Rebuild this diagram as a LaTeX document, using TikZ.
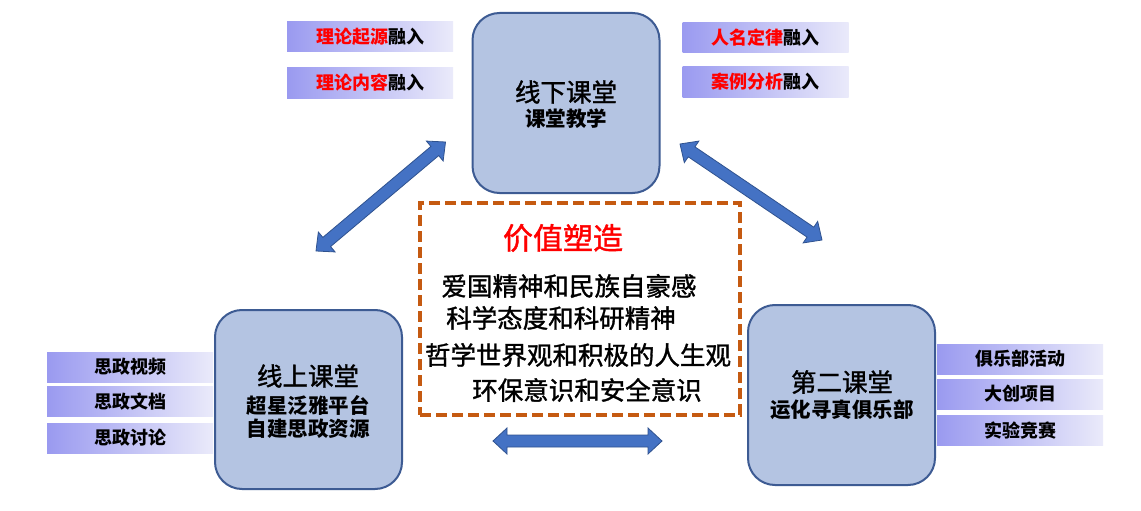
\documentclass[tikz,border=0pt]{standalone}
\usepackage{fontspec}
\newfontfamily\cjk{Noto Sans CJK SC}
\newfontfamily\cjkm[FakeBold=1.3]{Noto Sans CJK SC}
\usetikzlibrary{calc}
\definecolor{boxfill}{HTML}{B4C4E2}
\definecolor{boxline}{HTML}{3D5B93}
\definecolor{tabL}{HTML}{9A9AF0}
\definecolor{tabR}{HTML}{EAEAFA}
\definecolor{dashc}{HTML}{C55A11}
\definecolor{arrfill}{HTML}{4472C4}
\definecolor{arrline}{HTML}{2F528F}
\definecolor{redtxt}{HTML}{FF0000}
\newcommand\dblarrow[2]{%
  \coordinate (q1) at ($(#1)!14pt!(#2)$);
  \coordinate (q2) at ($(#2)!14pt!(#1)$);
  \filldraw[fill=arrfill,draw=arrline,line width=0.8pt,line join=miter]
    (#1) -- ($(q1)!13pt!90:(#2)$) -- ($(q1)!6pt!90:(#2)$)
    -- ($(q2)!6pt!-90:(#1)$) -- ($(q2)!13pt!-90:(#1)$) -- (#2)
    -- ($(q2)!13pt!90:(#1)$) -- ($(q2)!6pt!90:(#1)$)
    -- ($(q1)!6pt!-90:(#2)$) -- ($(q1)!13pt!-90:(#2)$) -- cycle;}
\begin{document}
\begin{tikzpicture}[x=1pt,y=-1pt,
  mainbox/.style={draw=boxline,fill=boxfill,line width=2pt,rounded corners=27pt,inner sep=0pt},
  tabbox/.style={left color=tabL,right color=tabR,draw=none,minimum width=166pt,minimum height=30pt,inner sep=0pt,
    font=\cjk\bfseries\fontsize{18}{18}\selectfont},
  bigt/.style={font=\cjkm\fontsize{25.5}{26}\selectfont,inner sep=0pt},
  subt/.style={font=\cjk\bfseries\fontsize{20.5}{21}\selectfont,inner sep=0pt},
  valt/.style={font=\cjkm\fontsize{25.5}{26}\selectfont,inner sep=0pt},
  dashbox/.style={draw=dashc,line width=3.2pt,dash pattern=on 11pt off 5pt,inner sep=0pt}]
\useasboundingbox (0,0) rectangle (1141,511);
\fill[white] (0,0) rectangle (1141,511);
% main boxes
\node[mainbox,minimum width=187pt,minimum height=180pt] (top) at (566,103) {};
\node[mainbox,minimum width=187pt,minimum height=179pt] (left) at (308.5,399.5) {};
\node[mainbox,minimum width=187pt,minimum height=180pt] (right) at (841.5,395) {};
\node[bigt] (topt1) at (566,92) {线下课堂};
\node[subt] (topt2) at (566,119) {课堂教学};
\node[bigt] (leftt1) at (308,376) {线上课堂};
\node[subt] (leftt2) at (308,405) {超星泛雅平台};
\node[subt] (leftt3) at (308,429) {自建思政资源};
\node[bigt] (rightt1) at (842,382) {第二课堂};
\node[subt] (rightt2) at (842,410) {运化寻真俱乐部};
% value box
\node[dashbox,minimum width=320pt,minimum height=212pt] (val) at (580,309) {};
\node[font=\cjkm\fontsize{30}{30}\selectfont,text=redtxt,inner sep=0pt] (valt) at (563,238) {价值塑造};
\node[valt] (v1) at (569,286) {爱国精神和民族自豪感};
\node[valt] (v2) at (561,318) {科学态度和科研精神};
\node[valt] (v3) at (578,355) {哲学世界观和积极的人生观};
\node[valt] (v4) at (587,390) {环保意识和安全意识};
% tabs
\node[tabbox] (tl1) at (370,37) {\textcolor{redtxt}{理论起源}融入};
\node[tabbox] (tl2) at (370,83) {\textcolor{redtxt}{理论内容}融入};
\node[tabbox] (tr1) at (765.5,38) {\textcolor{redtxt}{人名定律}融入};
\node[tabbox] (tr2) at (765.5,82) {\textcolor{redtxt}{案例分析}融入};
\node[tabbox] (l1) at (130,367) {思政视频};
\node[tabbox] (l2) at (130,401.5) {思政文档};
\node[tabbox] (l3) at (130,438) {思政讨论};
\node[tabbox] (r1) at (1020,359) {俱乐部活动};
\node[tabbox] (r2) at (1020,394) {大创项目};
\node[tabbox] (r3) at (1020,430.5) {实验竞赛};
% arrows
\coordinate (la1) at (316,251);
\coordinate (la2) at (445.5,142);
\coordinate (ra1) at (680,144);
\coordinate (ra2) at (822,240);
\coordinate (ha1) at (493,441);
\coordinate (ha2) at (662,441);
\dblarrow{la1}{la2}
\dblarrow{ra1}{ra2}
\dblarrow{ha1}{ha2}
\end{tikzpicture}
\end{document}
